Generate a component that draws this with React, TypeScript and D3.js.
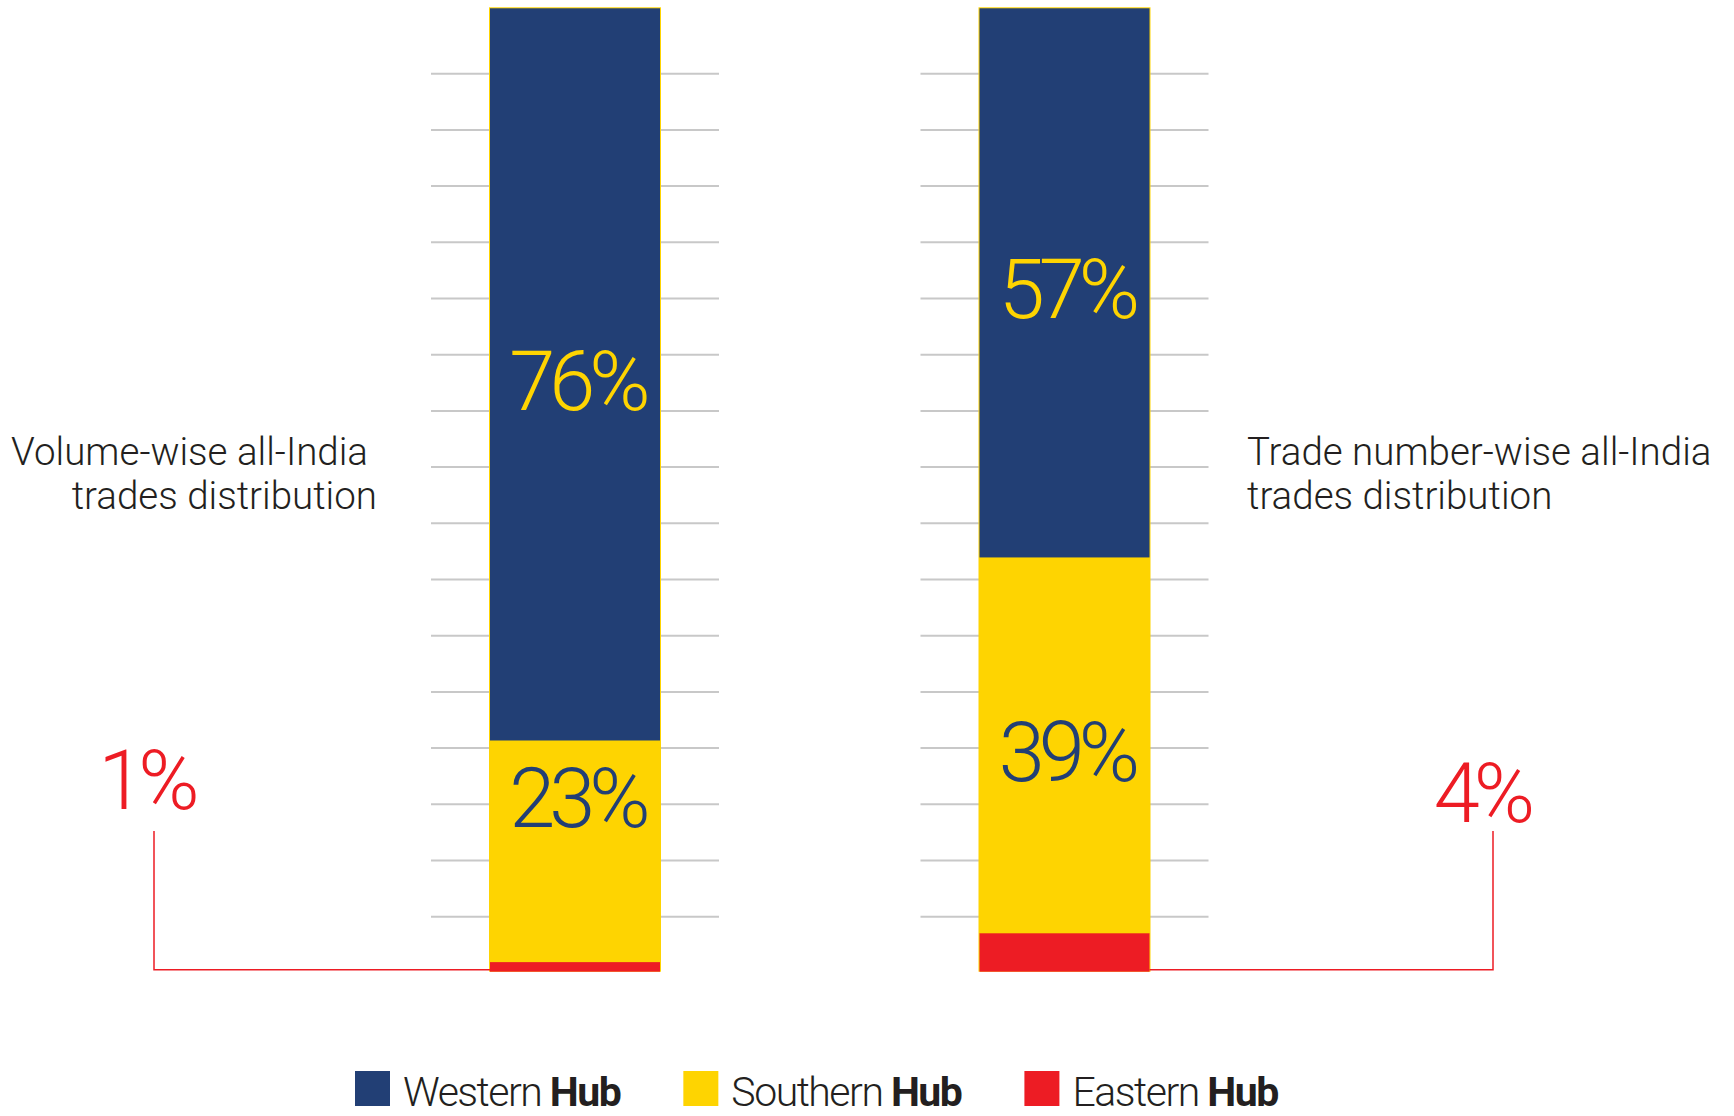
import React, { useEffect, useRef } from 'react';
import * as d3 from 'd3';

// values
const categories = ['Volume-wise', 'Trade number-wise'];
const western = [76, 57];
const southern = [23, 39];
const eastern = [1, 4];
const hubNames = ['Western', 'Southern', 'Eastern'];
const titleLines = [
  ['Volume-wise all-India', 'trades distribution'],
  ['Trade number-wise all-India', 'trades distribution'],
];
const gridCount = 16;

const BLUE = '#223f75';
const YELLOW = '#fed401';
const RED = '#ed1c24';
const INK = '#231f20';
const FONT = 'Roboto, "Noto Sans", sans-serif';

const HubDistribution: React.FC = () => {
  const svgRef = useRef<SVGSVGElement | null>(null);

  useEffect(() => {
    const svg = d3.select(svgRef.current);
    svg.selectAll('*').remove();

    const barW = 170;
    const x = d3.scalePoint<string>().domain(categories).range([575, 1064.5]);
    const y = d3.scaleLinear().domain([0, 100]).range([971.7, 8.3]);
    const grid = d3.scaleLinear().domain([0, gridCount - 1]).range([916.7, 73.7]);

    const rows = categories.map((c, i) => ({
      cat: c,
      eastern: eastern[i],
      southern: southern[i],
      western: western[i],
    }));
    const series = d3.stack<any>().keys(['eastern', 'southern', 'western'])(rows);
    const fills: Record<string, string> = { eastern: RED, southern: YELLOW, western: BLUE };

    // grid lines
    categories.forEach((c) => {
      const cx = x(c)!;
      svg.append('g')
        .selectAll('line')
        .data(d3.range(gridCount))
        .join('line')
        .attr('x1', cx - barW / 2 - 59)
        .attr('x2', cx + barW / 2 + 59)
        .attr('y1', (k) => grid(k))
        .attr('y2', (k) => grid(k))
        .attr('stroke', '#c8c8c8')
        .attr('stroke-width', 2);
    });

    // thin yellow outline behind each bar
    svg.append('g')
      .selectAll('rect')
      .data(categories)
      .join('rect')
      .attr('x', (c) => x(c)! - barW / 2 - 1)
      .attr('y', y(100) - 1)
      .attr('width', barW + 2)
      .attr('height', y(0) - y(100) + 1)
      .attr('fill', YELLOW);

    // stacked segments
    series.forEach((s) => {
      svg.append('g')
        .selectAll('rect')
        .data(s)
        .join('rect')
        .attr('x', (d: any) => x(d.data.cat)! - barW / 2)
        .attr('y', (d) => y(d[1]))
        .attr('width', barW)
        .attr('height', (d) => y(d[0]) - y(d[1]))
        .attr('fill', fills[s.key]);
    });

    // percentage labels inside the bars
    const labelSize = 83;
    ['western', 'southern'].forEach((key) => {
      const s = series.find((v) => v.key === key)!;
      s.forEach((d: any) => {
        const top = y(d[1]);
        const bottom = y(d[0]);
        let cy = (top + bottom) / 2 + 6;
        if (bottom - top < 300) cy = top + 57;
        svg.append('text')
          .attr('x', x(d.data.cat)! + 2)
          .attr('y', cy + labelSize * 0.711 / 2)
          .attr('text-anchor', 'middle')
          .attr('font-family', FONT)
          .attr('font-weight', 300)
          .attr('font-size', labelSize)
          .attr('letter-spacing', -6)
          .attr('fill', key === 'western' ? YELLOW : BLUE)
          .text(`${d.data[key]}%`);
      });
    });

    // eastern hub callouts
    categories.forEach((c, i) => {
      const side = i === 0 ? -1 : 1;
      const edge = x(c)! + side * barW / 2;
      const callX = x(c)! + side * (barW / 2 + 338);
      const lineX = callX + (side < 0 ? 2 : 5.5);
      svg.append('path')
        .attr('d', `M${lineX},831V${y(0) - 2}H${edge}`)
        .attr('fill', 'none')
        .attr('stroke', RED)
        .attr('stroke-width', 1.5);
      svg.append('text')
        .attr('x', callX - 6)
        .attr('y', 815 + side * 6.5)
        .attr('text-anchor', 'middle')
        .attr('font-family', FONT)
        .attr('font-weight', 300)
        .attr('font-size', labelSize)
        .attr('letter-spacing', -6)
        .attr('fill', RED)
        .text(`${eastern[i]}%`);
    });

    // titles
    categories.forEach((c, i) => {
      const left = i === 0;
      const t = svg.append('text')
        .attr('font-family', FONT)
        .attr('font-weight', 300)
        .attr('font-size', 38.5)
        .attr('fill', INK)
        .attr('text-anchor', left ? 'end' : 'start');
      titleLines[i].forEach((line, j) => {
        const tx = left
          ? x(c)! - barW / 2 - (j === 0 ? 122 : 113)
          : x(c)! + barW / 2 + 97.5;
        t.append('tspan').attr('x', tx).attr('y', 465 + j * 44).text(line);
      });
    });

    // legend
    const legendFill = [BLUE, YELLOW, RED];
    let lx = 355;
    hubNames.forEach((name, i) => {
      svg.append('rect')
        .attr('x', lx)
        .attr('y', 1071)
        .attr('width', 35)
        .attr('height', 35)
        .attr('fill', legendFill[i]);
      const t = svg.append('text')
        .attr('x', lx + 48)
        .attr('y', 1106)
        .attr('font-family', FONT)
        .attr('font-size', 41)
        .attr('letter-spacing', -1.5)
        .attr('fill', INK);
      t.append('tspan').attr('font-weight', 300).text(name + ' ');
      t.append('tspan').attr('font-weight', 700).text('Hub');
      const w = (t.node() as SVGTextElement).getComputedTextLength();
      lx = lx + 48 + w + 63;
    });
  }, []);

  return (
    <svg
      ref={svgRef}
      width="1734"
      height="1116"
      style={{ position: 'absolute', left: 0, top: 0, background: '#fff' }}
    />
  );
};

export default function App() {
  return <HubDistribution />;
}
